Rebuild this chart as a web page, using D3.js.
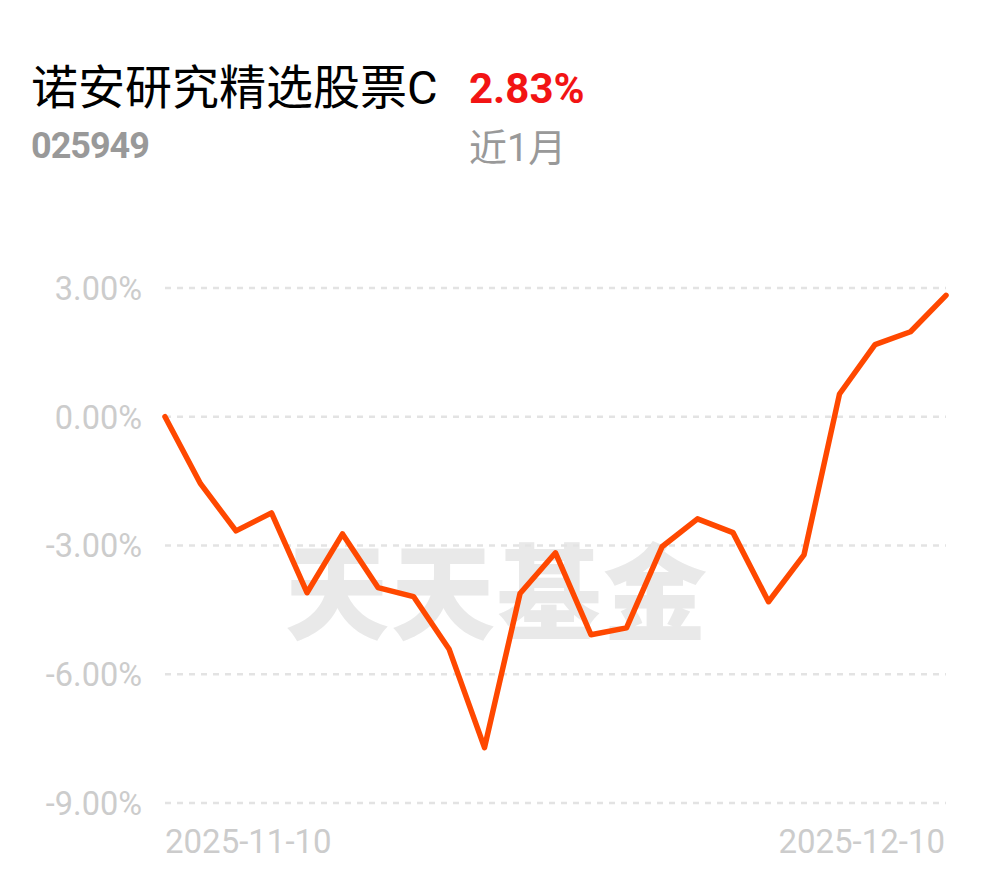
<!DOCTYPE html>
<html>
<head>
<meta charset="utf-8">
<script src="https://cdn.jsdelivr.net/npm/d3@7/dist/d3.min.js"></script>
<style>
html,body{margin:0;padding:0;background:#fff;}
svg{display:block;}
</style>
</head>
<body>
<svg id="chart" width="990" height="878"></svg>
<script>
const fundName = "诺安研究精选股票C";
const fundCode = "025949";
const periodReturn = "2.83%";
const periodLabel = "近1月";
const watermark = "天天基金";

const dates = ["2025-11-10","2025-11-11","2025-11-12","2025-11-13","2025-11-14",
  "2025-11-17","2025-11-18","2025-11-19","2025-11-20","2025-11-21",
  "2025-11-24","2025-11-25","2025-11-26","2025-11-27","2025-11-28",
  "2025-12-01","2025-12-02","2025-12-03","2025-12-04","2025-12-05",
  "2025-12-08","2025-12-09","2025-12-10"];
const returns = [0, -1.56, -2.66, -2.24, -4.10, -2.73, -3.98, -4.19, -5.41, -7.71,
  -4.12, -3.17, -5.08, -4.92, -3.03, -2.38, -2.70, -4.31, -3.22, 0.53,
  1.68, 1.98, 2.83];
const yTicks = [3, 0, -3, -6, -9];
const xTickLabels = ["2025-11-10", "2025-12-10"];

const svg = d3.select("#chart");

const x = d3.scalePoint().domain(dates).range([165, 946]);
const y = d3.scaleLinear().domain([-9, 3]).range([803, 288]);

// Header
svg.append("text").attr("x", 31).attr("y", 104)
  .attr("font-family", "Roboto, 'Noto Sans CJK SC', sans-serif")
  .attr("font-size", 47).attr("fill", "#000").text(fundName);
svg.append("text").attr("x", 469).attr("y", 103)
  .attr("font-family", "Roboto, sans-serif").attr("font-weight", 700)
  .attr("font-size", 42).attr("fill", "#f21414").text(periodReturn);
svg.append("text").attr("x", 31).attr("y", 158)
  .attr("font-family", "Roboto, sans-serif").attr("font-weight", 700)
  .attr("font-size", 36).attr("fill", "#999").attr("letter-spacing", -1).text(fundCode);
svg.append("text").attr("x", 469).attr("y", 161)
  .attr("font-family", "Roboto, 'Noto Sans CJK SC', sans-serif")
  .attr("font-size", 38).attr("fill", "#999").text(periodLabel);

// Watermark
svg.append("text").attr("x", 497).attr("y", 632)
  .attr("text-anchor", "middle")
  .attr("font-family", "'Noto Sans CJK SC', sans-serif").attr("font-weight", 900)
  .attr("font-size", 104).attr("fill", "#e9e9e9").attr("letter-spacing", 2).text(watermark);

// Grid
svg.append("g").selectAll("line").data(yTicks).join("line")
  .attr("x1", 165).attr("x2", 946)
  .attr("y1", d => y(d)).attr("y2", d => y(d))
  .attr("stroke", "#e3e3e3").attr("stroke-width", 2.5)
  .attr("stroke-dasharray", "6,6");

// Y axis labels
const yAxis = d3.axisLeft(y).tickValues(yTicks).tickSize(0).tickPadding(0)
  .tickFormat(d => d.toFixed(2) + "%");
const gy = svg.append("g").attr("transform", "translate(142,0)").call(yAxis);
gy.select(".domain").remove();
gy.selectAll("text").attr("font-family", "Roboto, sans-serif").attr("font-size", 32.5)
  .attr("fill", "#cccccc").attr("dy", "0.35em");

// X labels
const gx = svg.append("g");
gx.append("text").attr("x", x(xTickLabels[0])).attr("y", 853)
  .attr("font-family", "Roboto, sans-serif").attr("font-size", 33).attr("fill", "#cccccc")
  .text(xTickLabels[0]);
gx.append("text").attr("x", x(xTickLabels[1]) - 1).attr("y", 853).attr("text-anchor", "end")
  .attr("font-family", "Roboto, sans-serif").attr("font-size", 33).attr("fill", "#cccccc")
  .text(xTickLabels[1]);

// Line
const line = d3.line().x((d, i) => x(dates[i])).y(d => y(d));
svg.append("path").datum(returns).attr("d", line)
  .attr("fill", "none").attr("stroke", "#ff4800").attr("stroke-width", 5.5)
  .attr("stroke-linejoin", "round").attr("stroke-linecap", "round");
</script>
</body>
</html>
